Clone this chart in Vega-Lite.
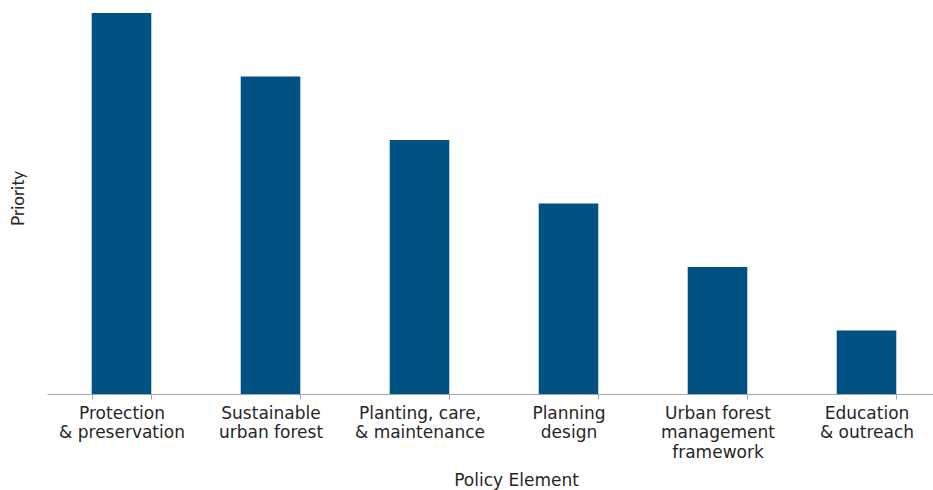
{
  "$schema": "https://vega.github.io/schema/vega-lite/v6.json",
  "autosize": {"type": "none"},
  "width": 894,
  "height": 381,
  "padding": {"left": 47, "top": 13, "right": -8, "bottom": 96},
  "background": "white",
  "config": {"view": {"stroke": null}},
  "data": {
    "values": [
      {"element": "Protection|& preservation", "priority": 6},
      {"element": "Sustainable|urban forest", "priority": 5},
      {"element": "Planting, care,|& maintenance", "priority": 4},
      {"element": "Planning|design", "priority": 3},
      {"element": "Urban forest|management|framework", "priority": 2},
      {"element": "Education|& outreach", "priority": 1}
    ]
  },
  "mark": {"type": "bar", "color": "#005282"},
  "encoding": {
    "x": {
      "field": "element",
      "type": "nominal",
      "sort": null,
      "scale": {"paddingInner": 0.6, "paddingOuter": 0.3},
      "axis": {
        "title": "Policy Element",
        "labelAngle": 0,
        "labelExpr": "split(datum.label, '|')",
        "labelFont": "DejaVu Sans",
        "labelFontSize": 17,
        "labelColor": "#262626",
        "labelLineHeight": 19.5,
        "labelPadding": 6,
        "labelBaseline": "top",
        "domainColor": "#a6a6a6",
        "tickColor": "#a6a6a6",
        "tickSize": 5,
        "tickBand": "extent",
        "titleFont": "DejaVu Sans",
        "titleFontSize": 17,
        "titleFontWeight": "normal",
        "titleColor": "#262626",
        "titleX": 469,
        "titleY": 91,
        "titleBaseline": "alphabetic"
      }
    },
    "y": {
      "field": "priority",
      "type": "quantitative",
      "scale": {"domain": [0, 6], "nice": false},
      "axis": {
        "title": "Priority",
        "labels": false,
        "ticks": false,
        "domain": false,
        "grid": false,
        "titleFont": "Lato",
        "titleFontSize": 17,
        "titleFontWeight": "normal",
        "titleColor": "#262626",
        "titleX": -24,
        "titleY": 185,
        "titleAngle": -90,
        "titleAlign": "center",
        "titleBaseline": "alphabetic"
      }
    }
  }
}
